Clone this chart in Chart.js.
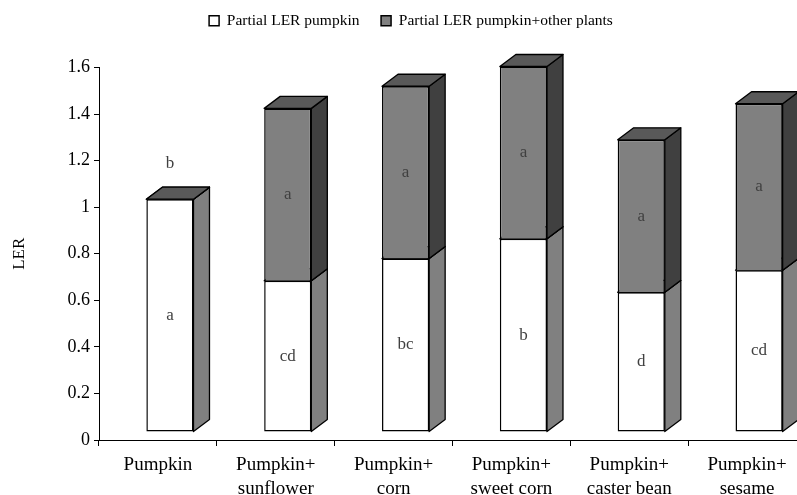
<!DOCTYPE html>
<html>
<head>
<meta charset="utf-8">
<script src="https://cdn.jsdelivr.net/npm/chart.js@4/dist/chart.umd.min.js"></script>
<style>
  body { margin: 0; background: #fff; overflow: hidden; }
  #wrap { width: 797px; height: 495px; overflow: hidden; }
</style>
</head>
<body>
<div id="wrap"><canvas id="lerChart" width="820" height="495"></canvas></div>
<script>
// LER of pumpkin intercropping - 3D stacked columns

const categories = [
  ["Pumpkin"],
  ["Pumpkin+", "sunflower"],
  ["Pumpkin+", "corn"],
  ["Pumpkin+", "sweet corn"],
  ["Pumpkin+", "caster bean"],
  ["Pumpkin+", "sesame"]
];
const partialPumpkin = [1.0, 0.65, 0.745, 0.83, 0.6, 0.695];
const partialOther = [0, 0.74, 0.74, 0.74, 0.655, 0.715];
const lettersPumpkin = ["a", "cd", "bc", "b", "d", "cd"];
const lettersOther = ["b", "a", "a", "a", "a", "a"];
const yTicks = ["0", "0.2", "0.4", "0.6", "0.8", "1", "1.2", "1.4", "1.6"];

const SERIF = "'Liberation Serif', 'Times New Roman', serif";
const DEPTH_X = 16;
const DEPTH_Y = 12;
const SHIFT_X = 12;
const SHIFT_Y = 8;

function face(ctx, pts, fill) {
  ctx.beginPath();
  ctx.moveTo(pts[0][0], pts[0][1]);
  for (let i = 1; i < pts.length; i++) ctx.lineTo(pts[i][0], pts[i][1]);
  ctx.closePath();
  ctx.fillStyle = fill;
  ctx.fill();
  ctx.stroke();
}

// side + top faces, drawn under the front faces
const depthPlugin = {
  id: "depth",
  beforeDatasetsDraw(chart) {
    const ctx = chart.ctx;
    ctx.save();
    ctx.translate(SHIFT_X, -SHIFT_Y);
    ctx.strokeStyle = "#000";
    ctx.lineWidth = 1.3;
    ctx.lineJoin = "round";
    chart.data.datasets.forEach((ds, i) => {
      const meta = chart.getDatasetMeta(i);
      meta.data.forEach((bar) => {
        const p = bar.getProps(["x", "y", "base", "width"], true);
        const l = p.x - p.width / 2;
        const r = p.x + p.width / 2;
        const top = Math.min(p.y, p.base);
        const bot = Math.max(p.y, p.base);
        face(ctx, [[r, top], [r + DEPTH_X, top - DEPTH_Y], [r + DEPTH_X, bot - DEPTH_Y], [r, bot]], ds.sideColor);
        face(ctx, [[l, top], [l + DEPTH_X, top - DEPTH_Y], [r + DEPTH_X, top - DEPTH_Y], [r, top]], ds.topColor);
      });
    });
  },
  afterDatasetsDraw(chart) {
    const ctx = chart.ctx;
    ctx.font = "17px " + SERIF;
    ctx.fillStyle = "#404040";
    ctx.textAlign = "center";
    ctx.textBaseline = "middle";
    chart.data.datasets.forEach((ds, i) => {
      const meta = chart.getDatasetMeta(i);
      meta.data.forEach((bar, j) => {
        const p = bar.getProps(["x", "y", "base"], true);
        const h = Math.abs(p.base - p.y);
        const ty = h > 1 ? (p.y + p.base) / 2 : p.y - 36;
        ctx.fillText(ds.letters[j], p.x, ty);
      });
    });
    ctx.restore();
  }
};

new Chart(document.getElementById("lerChart"), {
  type: "bar",
  data: {
    labels: categories,
    datasets: [
      {
        label: "Partial LER pumpkin",
        data: partialPumpkin,
        letters: lettersPumpkin,
        backgroundColor: "#ffffff",
        sideColor: "#808080",
        topColor: "#c0c0c0",
        borderColor: "#000",
        borderWidth: 1.5,
        borderSkipped: false
      },
      {
        label: "Partial LER pumpkin+other plants",
        data: partialOther,
        letters: lettersOther,
        backgroundColor: "#808080",
        sideColor: "#404040",
        topColor: "#595959",
        borderColor: "#000",
        borderWidth: 1.5,
        borderSkipped: "bottom"
      }
    ]
  },
  options: {
    responsive: false,
    animation: false,
    devicePixelRatio: 1,
    layout: { padding: { top: 3, right: 14, left: 16, bottom: 0 } },
    datasets: { bar: { categoryPercentage: 1, barPercentage: 0.4 } },
    plugins: {
      legend: {
        position: "top",
        labels: {
          color: "#000",
          font: { family: SERIF, size: 15.5 },
          boxWidth: 10,
          boxHeight: 10,
          padding: 10,
          generateLabels(chart) {
            const items = Chart.defaults.plugins.legend.labels.generateLabels(chart);
            // slightly wider gap after the first entry
            items[0].text = items[0].text + "\u00a0".repeat(3);
            return items;
          }
        }
      },
      tooltip: { enabled: false }
    },
    scales: {
      x: {
        stacked: true,
        grid: { display: true, drawOnChartArea: false, color: "#000", tickLength: 6 },
        border: { color: "#000", width: 1 },
        ticks: {
          color: "#000",
          padding: 7,
          maxRotation: 0,
          autoSkip: false,
          font: { family: SERIF, size: 19, lineHeight: 1.26 }
        },
        afterFit(scale) { scale.height = 55; }
      },
      xTop: {
        position: "top",
        display: true,
        grid: { display: false },
        border: { display: false },
        ticks: { display: false },
        afterFit(scale) { scale.height = 29; }
      },
      y: {
        stacked: true,
        min: 0,
        max: 1.6,
        grid: { display: true, drawOnChartArea: false, color: "#000", tickLength: 5 },
        border: { color: "#000", width: 1 },
        ticks: {
          stepSize: 0.2,
          color: "#000",
          padding: 4,
          font: { family: SERIF, size: 18 },
          callback: (v, i) => yTicks[i]
        },
        title: {
          display: true,
          text: "LER",
          color: "#000",
          font: { family: SERIF, size: 17 },
          padding: { top: -7, bottom: 0 }
        },
        afterFit(scale) { scale.width = 83; }
      }
    }
  },
  plugins: [depthPlugin]
});
</script>
</body>
</html>
